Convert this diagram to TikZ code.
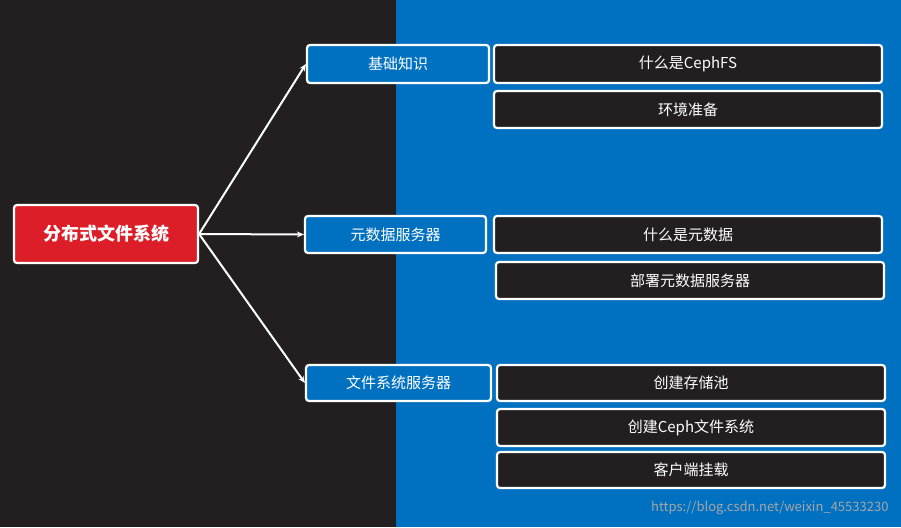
\documentclass[tikz,border=0pt]{standalone}
\usepackage{fontspec}
\setmainfont{Noto Sans CJK SC}
\begin{document}
\begin{tikzpicture}[x=1pt,y=-1pt,
  box/.style={draw=white,line width=2.2pt,rounded corners=3pt,text=white,font=\fontsize{15}{17}\selectfont,inner sep=0pt},
  mid/.style={box,fill=blue!0!cyan!0!black!0,fill={rgb,255:red,0;green,112;blue,192}},
  leaf/.style={box,fill=dark},
  arr/.style={white,line width=2pt,-{Stealth[length=7pt,width=6pt]}}]
\usetikzlibrary{arrows.meta}
\definecolor{dark}{RGB}{35,31,32}
\definecolor{blu}{RGB}{0,112,192}
\useasboundingbox (0,0) rectangle (901,527);
\fill[dark] (0,0) rectangle (396,527);
\fill[blu] (396,0) rectangle (901,527);
\node[box,fill={rgb,255:red,220;green,30;blue,40},minimum width=184pt,minimum height=58pt,font=\fontsize{18}{20}\selectfont\bfseries] (root) at (106,234) {分布式文件系统};
\node[box,fill=blu,minimum width=182pt,minimum height=38pt] (m1) at (398,64) {基础知识};
\node[box,fill=blu,minimum width=181pt,minimum height=37pt] (m2) at (395.5,234.5) {元数据服务器};
\node[box,fill=blu,minimum width=185pt,minimum height=36pt] (m3) at (398.5,383) {文件系统服务器};
\node[box,fill=dark,minimum width=388pt,minimum height=38pt] (a1) at (688,64) {什么是CephFS};
\node[box,fill=dark,minimum width=388pt,minimum height=37pt] (a2) at (688,109.5) {环境准备};
\node[box,fill=dark,minimum width=388pt,minimum height=37pt] (b1) at (688,234.5) {什么是元数据};
\node[box,fill=dark,minimum width=388pt,minimum height=37pt] (b2) at (690,280.5) {部署元数据服务器};
\node[box,fill=dark,minimum width=388pt,minimum height=36pt] (c1) at (691,383) {创建存储池};
\node[box,fill=dark,minimum width=388pt,minimum height=37pt] (c2) at (691,427.5) {创建Ceph文件系统};
\node[box,fill=dark,minimum width=388pt,minimum height=36pt] (c3) at (691,470) {客户端挂载};
\draw[arr] (root.east) -- (m1.west);
\draw[arr] (root.east) -- (m2.west);
\draw[arr] (root.east) -- (m3.west);
\node[text=gray!70,font=\fontsize{13}{15}\selectfont,anchor=east] (wm) at (892,508) {https://blog.csdn.net/weixin\_45533230};
\end{tikzpicture}
\end{document}
